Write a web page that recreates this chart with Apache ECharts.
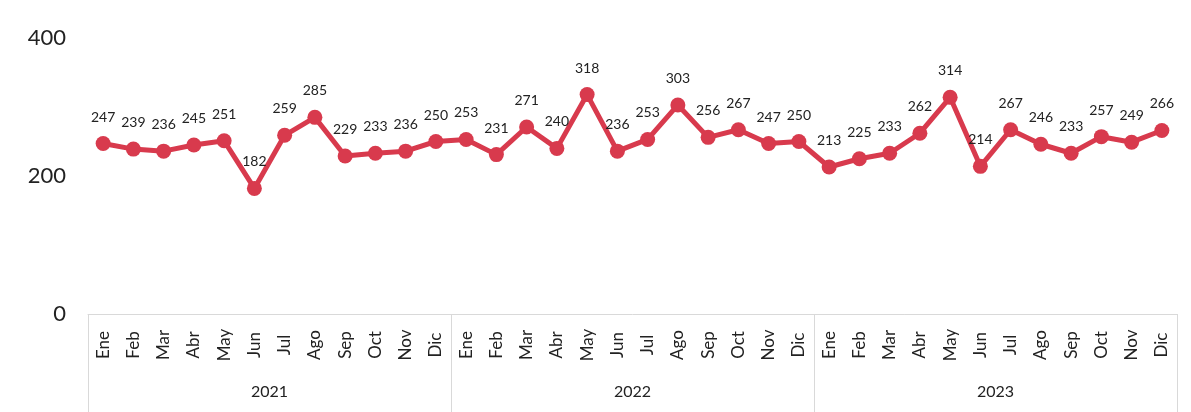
<!DOCTYPE html>
<html><head><meta charset="utf-8">
<script src="https://cdn.jsdelivr.net/npm/echarts@6/dist/echarts.min.js"></script>
<style>html,body{margin:0;padding:0;background:#fff}#c{width:1191px;height:412px}</style>
</head><body><div id="c"></div>
<script>
const months = ['Ene','Feb','Mar','Abr','May','Jun','Jul','Ago','Sep','Oct','Nov','Dic'];
const years = ['2021','2022','2023'];
const values2021 = [247,239,236,245,251,182,259,285,229,233,236,250];
const values2022 = [253,231,271,240,318,236,253,303,256,267,247,250];
const values2023 = [213,225,233,262,314,214,267,246,233,257,249,266];
const yTicks = [0,200,400];

const cats = [];
years.forEach(y => months.forEach(m => cats.push(m + ' ' + y)));
const values = values2021.concat(values2022, values2023);
const font = 'Lato, "Open Sans", sans-serif';

const chart = echarts.init(document.getElementById('c'));
chart.setOption({
  animation: false,
  grid: {left: 88, right: 14, top: 38, bottom: 98},
  xAxis: [{
    type: 'category', data: cats, boundaryGap: true, position: 'bottom',
    axisLine: {show: true, lineStyle: {color: '#d9d9d9', width: 1}},
    axisTick: {show: false},
    axisLabel: {
      interval: 0, rotate: 90, align: 'center', verticalAlign: 'middle', margin: 31,
      fontFamily: font, fontSize: 17, color: '#222',
      formatter: v => v.split(' ')[0]
    }
  }, {
    type: 'category', data: years, boundaryGap: true, position: 'bottom',
    axisLine: {show: false},
    axisTick: {show: true, length: 98, lineStyle: {color: '#d9d9d9', width: 1}},
    axisLabel: {margin: 70, fontFamily: font, fontSize: 16, color: '#222'}
  }],
  yAxis: {
    type: 'value', min: yTicks[0], max: yTicks[yTicks.length-1], interval: 200,
    axisLine: {show: false}, axisTick: {show: false},
    splitLine: {show: false},
    axisLabel: {fontFamily: font, fontSize: 22, color: '#222', margin: 22}
  },
  series: [{
    type: 'line', data: values, xAxisIndex: 0,
    symbol: 'circle', symbolSize: 15,
    lineStyle: {color: '#d83a4d', width: 5},
    itemStyle: {color: '#d83a4d'},
    label: {show: true, position: 'top', distance: 12, fontFamily: font, fontSize: 14, color: '#222'}
  }]
});
</script></body></html>
